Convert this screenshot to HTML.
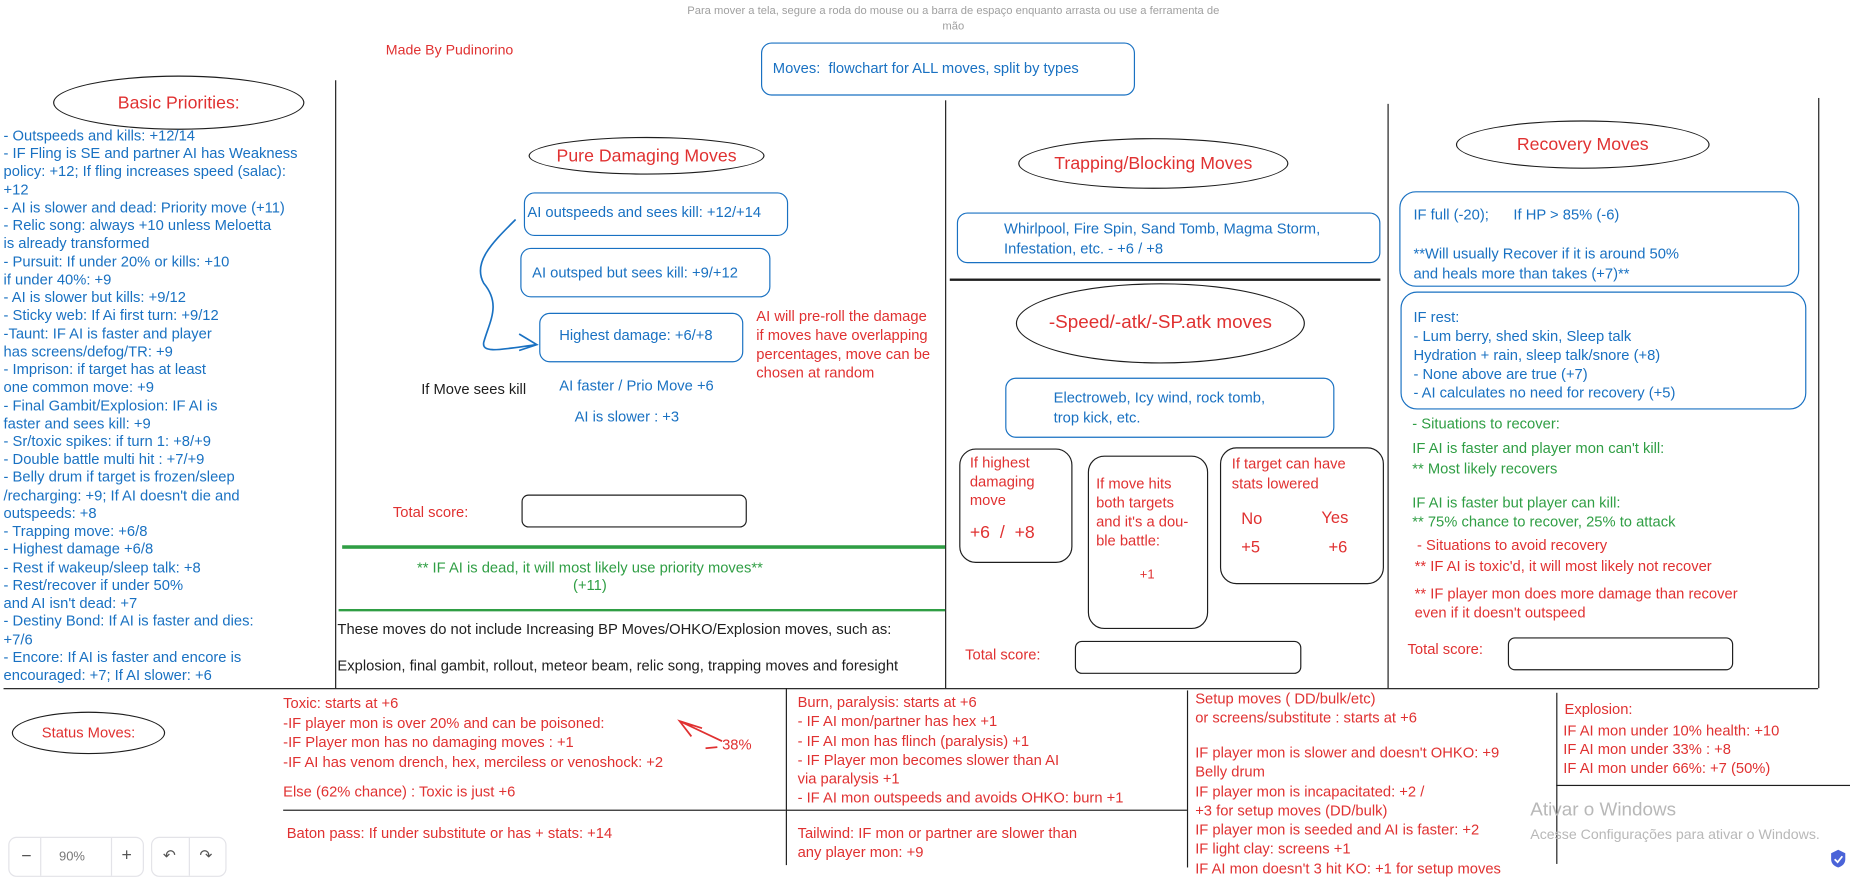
<!DOCTYPE html>
<html><head><meta charset="utf-8"><style>
html,body{margin:0;padding:0;background:#fff;overflow:hidden;width:1850px;height:871px}
#s{position:absolute;left:0;top:0;width:1568px;height:738px;transform:scale(1.17985,1.18022);transform-origin:0 0;font-family:"Liberation Sans",sans-serif;font-size:12.5px;}
.t{position:absolute;white-space:nowrap;line-height:15.3px}
.b{color:#1971c2}.r{color:#e03131}.g{color:#2f9e44}.k{color:#1e1e1e}
.box{position:absolute;border:1.6px solid #1971c2;border-radius:9px;box-sizing:border-box}
.kb{position:absolute;border:1.4px solid #1e1e1e;border-radius:14px;box-sizing:border-box}
.el{position:absolute;border:1.5px solid #1e1e1e;border-radius:50%;box-sizing:border-box;display:flex;align-items:center;justify-content:center;color:#e03131;font-size:15px}
.vl{position:absolute;width:1.4px;background:#1e1e1e}
.hl{position:absolute;height:1.4px;background:#1e1e1e}
</style></head><body><div id="s">
<div class="t" style="left:578px;top:3px;width:460px;text-align:center;color:#a0a0a0;font-size:9.5px;line-height:13px;white-space:normal">Para mover a tela, segure a roda do mouse ou a barra de espaço enquanto arrasta ou use a ferramenta de mão</div>
<div class="t r" style="left:327px;top:35px;font-size:12px">Made By Pudinorino</div>
<div class="box" style="left:645px;top:36px;width:317px;height:45px"></div>
<div class="t b" style="left:655px;top:51px">Moves:&nbsp; flowchart for ALL moves, split by types</div>

<!-- lines -->
<div class="vl" style="left:284px;top:68px;height:515px"></div>
<div class="vl" style="left:801px;top:85px;height:498px"></div>
<div class="vl" style="left:1176px;top:88px;height:495px"></div>
<div class="vl" style="left:1541px;top:83px;height:500px"></div>
<div class="hl" style="left:3px;top:583px;width:1538px"></div>
<div class="vl" style="left:666px;top:583px;height:150px"></div>
<div class="vl" style="left:1006px;top:585px;height:150px"></div>
<div class="vl" style="left:1319px;top:587px;height:145px"></div>
<div class="hl" style="left:240px;top:686px;width:426px"></div>
<div class="hl" style="left:666px;top:686px;width:340px"></div>
<div class="hl" style="left:1319px;top:665px;width:249px"></div>

<!-- Basic priorities -->
<div class="el" style="left:45px;top:64px;width:213px;height:46px">Basic Priorities:</div>
<div class="t b" style="left:3px;top:108px;line-height:15.23px">- Outspeeds and kills: +12/14<br>- IF Fling is SE and partner AI has Weakness<br>policy: +12; If fling increases speed (salac):<br>+12<br>- AI is slower and dead: Priority move (+11)<br>- Relic song: always +10 unless Meloetta<br>is already transformed<br>- Pursuit: If under 20% or kills: +10<br>if under 40%: +9<br>- AI is slower but kills: +9/12<br>- Sticky web: If Ai first turn: +9/12<br>-Taunt: IF AI is faster and player<br>has screens/defog/TR: +9<br>- Imprison: if target has at least<br>one common move: +9<br>- Final Gambit/Explosion: IF AI is<br>faster and sees kill: +9<br>- Sr/toxic spikes: if turn 1: +8/+9<br>- Double battle multi hit : +7/+9<br>- Belly drum if target is frozen/sleep<br>/recharging: +9; If AI doesn't die and<br>outspeeds: +8<br>- Trapping move: +6/8<br>- Highest damage +6/8<br>- Rest if wakeup/sleep talk: +8<br>- Rest/recover if under 50%<br>and AI isn't dead: +7<br>- Destiny Bond: If AI is faster and dies:<br>+7/6<br>- Encore: If AI is faster and encore is<br>encouraged: +7; If AI slower: +6</div>

<!-- Pure damaging -->
<div class="el" style="left:448px;top:116px;width:200px;height:32px">Pure Damaging Moves</div>
<div class="box" style="left:444px;top:163px;width:224px;height:37px"></div>
<div class="t b" style="left:447px;top:173px">AI outspeeds and sees kill: +12/+14</div>
<div class="box" style="left:441px;top:210px;width:212px;height:42px"></div>
<div class="t b" style="left:451px;top:224px">AI outsped but sees kill: +9/+12</div>
<div class="box" style="left:457px;top:265px;width:173px;height:42px"></div>
<div class="t b" style="left:474px;top:277px">Highest damage: +6/+8</div>
<svg style="position:absolute;left:0;top:0" width="1568" height="738"><path d="M437,186 C418,205 400,222 410,240 C425,258 415,272 410,290 C408,300 425,296 455,292 M440,283 L455,292 L440,297" fill="none" stroke="#1971c2" stroke-width="1.4"/>
<path d="M595,617 L576,611 L586,624 M576,611 L612,628 M598,634 L608,633" fill="none" stroke="#e03131" stroke-width="1.5"/></svg>
<div class="t r" style="left:641px;top:260px;line-height:16px">AI will pre-roll the damage<br>if moves have overlapping<br>percentages, move can be<br>chosen at random</div>
<div class="t k" style="left:357px;top:323px">If Move sees kill</div>
<div class="t b" style="left:474px;top:320px">AI faster / Prio Move +6</div>
<div class="t b" style="left:487px;top:346px">AI is slower : +3</div>
<div class="t r" style="left:333px;top:427px">Total score:</div>
<div class="kb" style="left:442px;top:419px;width:191px;height:28px;border-radius:6px"></div>
<div class="hl" style="left:290px;top:462px;width:511px;height:2.5px;background:#2f9e44"></div>
<div class="t g" style="left:290px;top:474px;width:420px;text-align:center;line-height:15px">** IF AI is dead, it will most likely use priority moves**<br>(+11)</div>
<div class="hl" style="left:287px;top:516px;width:514px;height:2px;background:#2f9e44"></div>
<div class="t k" style="left:286px;top:526px">These moves do not include Increasing BP Moves/OHKO/Explosion moves, such as:</div>
<div class="t k" style="left:286px;top:557px">Explosion, final gambit, rollout, meteor beam, relic song, trapping moves and foresight</div>

<!-- Trapping -->
<div class="el" style="left:863px;top:117px;width:229px;height:43px">Trapping/Blocking Moves</div>
<div class="box" style="left:811px;top:180px;width:359px;height:43px"></div>
<div class="t b" style="left:851px;top:186px;line-height:16.5px">Whirlpool, Fire Spin, Sand Tomb, Magma Storm,<br>Infestation, etc. - +6 / +8</div>
<div class="hl" style="left:805px;top:236px;width:365px;height:1.8px"></div>
<div class="el" style="left:861px;top:240px;width:245px;height:68px;font-size:16px">-Speed/-atk/-SP.atk moves</div>
<div class="box" style="left:852px;top:320px;width:279px;height:51px"></div>
<div class="t b" style="left:893px;top:329px;line-height:17px">Electroweb, Icy wind, rock tomb,<br>trop kick, etc.</div>
<div class="kb" style="left:813px;top:380px;width:96px;height:97px"></div>
<div class="t r" style="left:822px;top:384px;line-height:16px">If highest<br>damaging<br>move</div>
<div class="t r" style="left:822px;top:444px;font-size:15px">+6&nbsp; /&nbsp; +8</div>
<div class="kb" style="left:922px;top:386px;width:102px;height:147px"></div>
<div class="t r" style="left:929px;top:402px;line-height:16px">If move hits<br>both targets<br>and it's a dou-<br>ble battle:</div>
<div class="t r" style="left:966px;top:480px;font-size:11px">+1</div>
<div class="kb" style="left:1034px;top:379px;width:139px;height:116px"></div>
<div class="t r" style="left:1044px;top:385px;line-height:16.5px">If target can have<br>stats lowered</div>
<div class="t r" style="left:1052px;top:432px;font-size:14px">No</div>
<div class="t r" style="left:1120px;top:431px;font-size:14px">Yes</div>
<div class="t r" style="left:1052px;top:456px;font-size:14px">+5</div>
<div class="t r" style="left:1126px;top:456px;font-size:14px">+6</div>
<div class="t r" style="left:818px;top:548px">Total score:</div>
<div class="kb" style="left:911px;top:543px;width:192px;height:28px;border-radius:6px"></div>

<!-- Recovery -->
<div class="el" style="left:1234px;top:102px;width:215px;height:41px">Recovery Moves</div>
<div class="box" style="left:1186px;top:162px;width:339px;height:81px;border-radius:14px"></div>
<div class="t b" style="left:1198px;top:175px">IF full (-20);&nbsp;&nbsp;&nbsp;&nbsp;&nbsp; If HP &gt; 85% (-6)</div>
<div class="t b" style="left:1198px;top:207px;line-height:16.5px">**Will usually Recover if it is around 50%<br>and heals more than takes (+7)**</div>
<div class="box" style="left:1187px;top:247px;width:344px;height:100px;border-radius:14px"></div>
<div class="t b" style="left:1198px;top:261px;line-height:16px">IF rest:<br>- Lum berry, shed skin, Sleep talk<br>Hydration + rain, sleep talk/snore (+8)<br>- None above are true (+7)<br>- AI calculates no need for recovery (+5)</div>
<div class="t g" style="left:1197px;top:352px">- Situations to recover:</div>
<div class="t g" style="left:1197px;top:372px;line-height:17px">IF AI is faster and player mon can't kill:<br>** Most likely recovers</div>
<div class="t g" style="left:1197px;top:418px;line-height:16px">IF AI is faster but player can kill:<br>** 75% chance to recover, 25% to attack</div>
<div class="t r" style="left:1201px;top:455px">- Situations to avoid recovery</div>
<div class="t r" style="left:1199px;top:473px">** IF AI is toxic'd, it will most likely not recover</div>
<div class="t r" style="left:1199px;top:495px;line-height:16px">** IF player mon does more damage than recover<br>even if it doesn't outspeed</div>
<div class="t r" style="left:1193px;top:543px">Total score:</div>
<div class="kb" style="left:1278px;top:540px;width:191px;height:28px;border-radius:6px"></div>

<!-- Bottom -->
<div class="el" style="left:10px;top:603px;width:130px;height:36px;font-size:12.5px">Status Moves:</div>
<div class="t r" style="left:240px;top:588px;line-height:16.5px">Toxic: starts at +6<br>-IF player mon is over 20% and can be poisoned:<br>-IF Player mon has no damaging moves : +1<br>-IF AI has venom drench, hex, merciless or venoshock: +2</div>
<div class="t r" style="left:612px;top:624px">38%</div>
<div class="t r" style="left:240px;top:664px">Else (62% chance) : Toxic is just +6</div>
<div class="t r" style="left:243px;top:699px">Baton pass: If under substitute or has + stats: +14</div>
<div class="t r" style="left:676px;top:587px;line-height:16.3px">Burn, paralysis: starts at +6<br>- IF AI mon/partner has hex +1<br>- IF AI mon has flinch (paralysis) +1<br>- IF Player mon becomes slower than AI<br>via paralysis +1<br>- IF AI mon outspeeds and avoids OHKO: burn +1</div>
<div class="t r" style="left:676px;top:698px;line-height:16px">Tailwind: IF mon or partner are slower than<br>any player mon: +9</div>
<div class="t r" style="left:1013px;top:585px;line-height:15.5px">Setup moves ( DD/bulk/etc)<br>or screens/substitute : starts at +6</div>
<div class="t r" style="left:1013px;top:630px;line-height:16.3px">IF player mon is slower and doesn't OHKO: +9<br>Belly drum<br>IF player mon is incapacitated: +2 /<br>+3 for setup moves (DD/bulk)<br>IF player mon is seeded and AI is faster: +2<br>IF light clay: screens +1<br>IF AI mon doesn't 3 hit KO: +1 for setup moves</div>
<div class="t r" style="left:1326px;top:594px">Explosion:</div>
<div class="t r" style="left:1325px;top:611px;line-height:16px">IF AI mon under 10% health: +10<br>IF AI mon under 33% : +8<br>IF AI mon under 66%: +7 (50%)</div>

<div class="t" style="left:1297px;top:679px;color:#b8b8b8;font-size:16px">Ativar o Windows</div>
<div class="t" style="left:1297px;top:700px;color:#b8b8b8;font-size:12px">Acesse Configurações para ativar o Windows.</div>
<svg style="position:absolute;left:1551px;top:719px" width="14" height="17"><path d="M7,1 L13,4 L13,9 C13,13 10,15 7,16 C4,15 1,13 1,9 L1,4 Z" fill="#4a63d8"/><path d="M4,9 L6.5,11.5 L10.5,6.5" stroke="#fff" stroke-width="1.5" fill="none"/></svg>

<div style="position:absolute;left:7px;top:709px;width:113px;height:32px;border:1px solid #e3e3e8;border-radius:7px;background:#fff;color:#555;font-size:11px">
<span style="position:absolute;left:10px;top:7px;font-size:15px">−</span>
<div style="position:absolute;left:26px;top:0;width:1px;height:32px;background:#e3e3e8"></div>
<span style="position:absolute;left:42px;top:10px;color:#777">90%</span>
<div style="position:absolute;left:86px;top:0;width:1px;height:32px;background:#e3e3e8"></div>
<span style="position:absolute;left:95px;top:6px;font-size:15px">+</span></div>
<div style="position:absolute;left:128px;top:709px;width:62px;height:32px;border:1px solid #e3e3e8;border-radius:7px;background:#fff;color:#555;font-size:13px">
<span style="position:absolute;left:9px;top:7px">↶</span>
<div style="position:absolute;left:31px;top:0;width:1px;height:32px;background:#e3e3e8"></div>
<span style="position:absolute;left:40px;top:7px">↷</span></div>
</div></body></html>
